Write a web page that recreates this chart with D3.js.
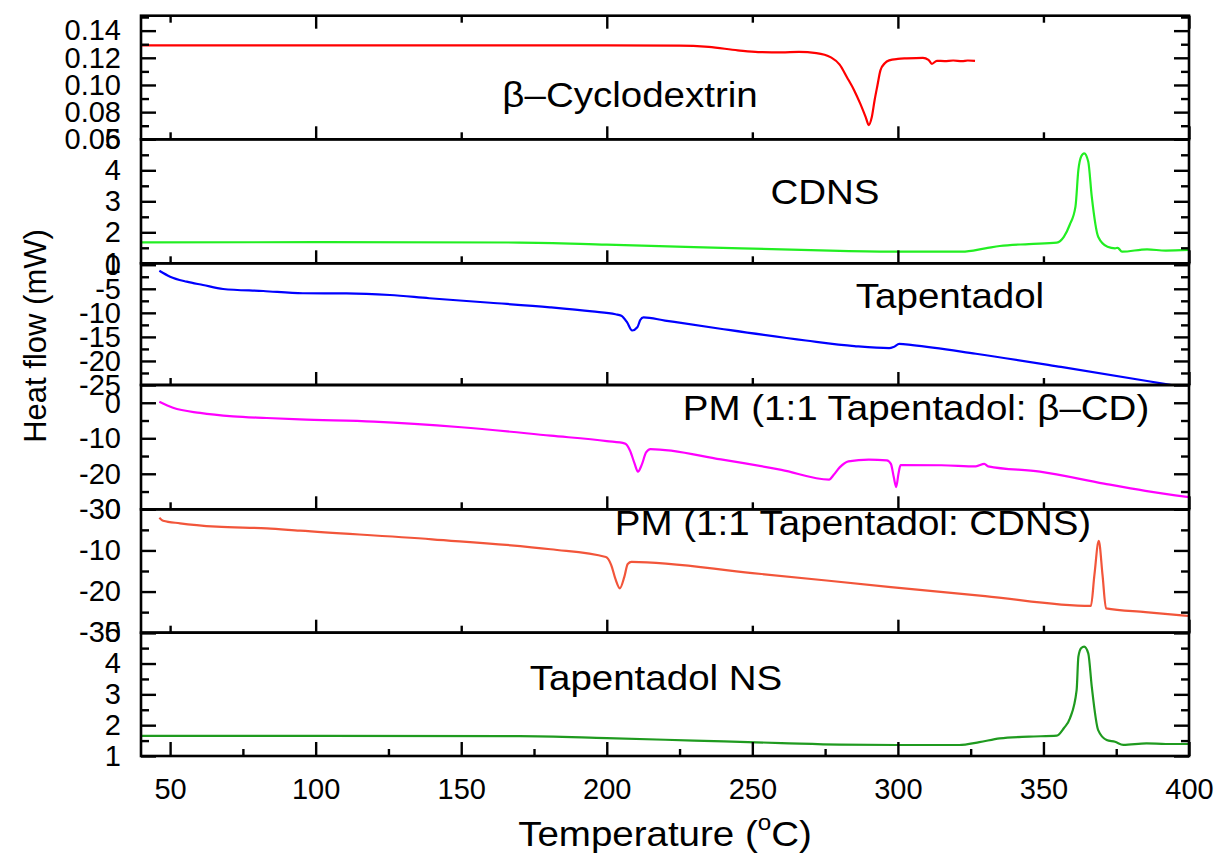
<!DOCTYPE html>
<html>
<head>
<meta charset="utf-8">
<script src="https://cdn.jsdelivr.net/npm/d3@7/dist/d3.min.js"></script>
<style>
  html, body { margin: 0; padding: 0; background: #ffffff; }
  svg { display: block; }
  text { font-family: "Liberation Sans", Arial, sans-serif; fill: #000; }
</style>
</head>
<body>
<svg id="chart" width="1217" height="857"></svg>
<script>
// ---------------- DATA (temperature °C, heat flow mW) ----------------
const betaCD = [[40,0.1291],[80,0.1292],[120,0.1291],[160,0.1292],[200,0.1291],[225,0.1290],[235,0.1280],[245,0.1255],[252,0.1242],[260,0.1240],[266,0.1243],[272,0.1235],[277,0.1203],[280,0.1150],[282.5,0.1057],[285,0.0960],[287,0.0866],[289,0.0760],[290,0.0705],[291,0.0760],[292,0.0888],[293,0.1000],[294,0.1108],[295.5,0.1160],[297,0.1181],[300,0.1192],[303,0.1196],[308.6,0.1200],[310.5,0.1185],[311.7,0.1156],[313.4,0.1178],[316,0.1176],[319,0.1180],[322,0.1175],[324,0.1180],[326.5,0.1177]];
const cdns = [[40,1.677],[100,1.68],[170,1.67],[200,1.60],[230,1.52],[260,1.45],[280,1.40],[300,1.375],[322,1.374],[330,1.48],[335,1.558],[345,1.62],[354.6,1.665],[357,1.85],[359,2.235],[361,2.826],[362,4.01],[363,4.45],[364,4.548],[365.4,4.277],[366.6,3.148],[368.8,1.858],[372,1.535],[374.6,1.484],[375.5,1.50],[377,1.374],[385.6,1.45],[392,1.41],[400,1.43]];
const tapentadol = [[46.3,-1.24],[50,-2.48],[55.7,-3.52],[61.3,-4.21],[68.2,-5.04],[82,-5.46],[95.6,-5.93],[110.6,-5.95],[125.5,-6.29],[139,-6.97],[160,-7.9],[180.5,-8.85],[195,-9.7],[203,-10.3],[205,-10.6],[207,-12],[208.7,-13.67],[210.5,-13.0],[211.5,-11.5],[212.6,-10.93],[220,-11.6],[239,-13.3],[268.4,-15.75],[285,-16.9],[297,-17.33],[298.5,-17.1],[300.5,-16.44],[305,-16.7],[326.8,-18.5],[356,-21.24],[391,-24.7],[394,-25]];
const pmBetaCD = [[46.3,0.26],[51,-1.43],[60.3,-2.86],[71.6,-3.83],[83.2,-4.29],[94.6,-4.69],[120,-5.3],[150,-6.9],[180.7,-9.26],[200,-10.8],[206.3,-11.49],[208,-13.5],[209.5,-17],[210.7,-19.4],[212,-17.5],[213.5,-14],[215,-13.06],[239.2,-15.94],[260,-18.9],[276.4,-21.63],[277.9,-20.34],[280,-18.2],[283,-16.5],[290,-16.0],[296.2,-16.2],[297.6,-17.2],[298.6,-21],[299.4,-23.74],[300.2,-20],[300.9,-17.57],[315,-17.6],[326.8,-17.9],[329.7,-17.2],[331,-17.9],[348.8,-19.4],[370.8,-22.77],[385,-24.8],[400,-26.6]];
const pmCDNS = [[46.3,-2.04],[47.6,-2.77],[53.4,-3.4],[66,-4.23],[83.2,-4.62],[94.6,-5.2],[140,-7.3],[180.7,-9.72],[199.7,-11.6],[201.5,-13.5],[203,-17],[204.5,-19.2],[206,-16.5],[207.2,-13.3],[208.5,-12.8],[250,-15.5],[297.6,-18.9],[330,-21.1],[366.3,-23.5],[367.5,-16],[369,-7.7],[370.3,-16],[371.5,-24.07],[385,-25],[400,-25.94]];
const tapentadolNS = [[40,1.65],[100,1.65],[170,1.645],[200,1.58],[230,1.5],[260,1.42],[280,1.37],[299.6,1.357],[321,1.357],[328,1.45],[335,1.574],[345,1.63],[354.6,1.66],[357,1.9],[359.1,2.22],[361.4,3.14],[362,4.22],[363,4.5],[364,4.55],[365.4,4.33],[366.6,3.25],[368.8,1.84],[371.7,1.52],[374.6,1.46],[377.4,1.36],[385.4,1.41],[392,1.39],[400,1.39]];

const seriesNames = ["\u03b2\u2013Cyclodextrin", "CDNS", "Tapentadol", "PM (1:1 Tapentadol: \u03b2\u2013CD)", "PM (1:1 Tapentadol: CDNS)", "Tapentadol NS"];

const xDomain = [40, 400];
const xTickLabels = [50, 100, 150, 200, 250, 300, 350, 400];
const xMinorTicks = [75, 125, 175, 225, 275, 325, 375];
const xInnerMajor = [100, 200, 300, 400];
const xInnerMinor = [50, 150, 250, 350];

const yDomains = [[0.06, 0.151], [1, 5], [-25, 0.3], [-30, 5], [-30, 0], [1, 5]];
const yMajorTicks = [[0.06, 0.08, 0.10, 0.12, 0.14], [1, 2, 3, 4, 5], [-25, -20, -15, -10, -5, 0], [-30, -20, -10, 0], [-30, -20, -10, 0], [1, 2, 3, 4, 5]];
const yMinorTicks = [[0.07, 0.09, 0.11, 0.13, 0.15], [1.5, 2.5, 3.5, 4.5], [-22.5, -17.5, -12.5, -7.5, -2.5], [-25, -15, -5], [-25, -15, -5], [1.5, 2.5, 3.5, 4.5]];
const yTickLabels = [["0.06", "0.08", "0.10", "0.12", "0.14"], ["1", "2", "3", "4", "5"], ["-25", "-20", "-15", "-10", "-5", "0"], ["-30", "-20", "-10", "0"], ["-30", "-20", "-10", "0"], ["1", "2", "3", "4", "5"]];

// ---------------- LAYOUT / STYLE ----------------
const seriesData = [betaCD, cdns, tapentadol, pmBetaCD, pmCDNS, tapentadolNS];
const colors = ["#ff0000", "#22ee22", "#0000ff", "#ff00ff", "#f2553a", "#1f9a1f"];
const left = 141, right = 1189;
const bounds = [15.7, 139.3, 263.3, 385, 509.3, 632.7, 756];
const labelPos = [[630, 95], [825, 192], [950, 296], [916, 408], [853, 523], [656, 678]];
const stretch = 1.1;

const svg = d3.select("#chart");
const x = d3.scaleLinear().domain(xDomain).range([left, right]);

function styleAxis(g, fontSize) {
  g.select(".domain").remove();
  g.selectAll(".tick line").attr("stroke", "#000").attr("stroke-width", 2.4);
  g.selectAll(".tick text").attr("font-size", fontSize).attr("font-family", "Liberation Sans, Arial, sans-serif").attr("fill", "#000");
}

seriesData.forEach((data, i) => {
  const top = bounds[i], bottom = bounds[i + 1];
  const y = d3.scaleLinear().domain(yDomains[i]).range([bottom, top]);
  const panel = svg.append("g");

  const clipId = "clip" + i;
  svg.append("clipPath").attr("id", clipId).append("rect")
    .attr("x", left).attr("y", top).attr("width", right - left).attr("height", bottom - top);

  const line = d3.line().x(d => x(d[0])).y(d => y(d[1])).curve(d3.curveMonotoneX);
  panel.append("path").datum(data)
    .attr("clip-path", `url(#${clipId})`)
    .attr("d", line).attr("fill", "none")
    .attr("stroke", colors[i]).attr("stroke-width", 2.2).attr("stroke-linejoin", "round");

  const labels = yTickLabels[i];
  const majors = yMajorTicks[i];
  panel.append("g").attr("transform", `translate(${left},0)`)
    .call(d3.axisLeft(y).tickValues(majors).tickSize(-15).tickPadding(20)
      .tickFormat((d) => labels[majors.indexOf(d)]))
    .call(g => styleAxis(g, 29));
  panel.append("g").attr("transform", `translate(${left},0)`)
    .call(d3.axisLeft(y).tickValues(yMinorTicks[i]).tickSize(-8).tickFormat(""))
    .call(g => styleAxis(g, 29));
  panel.append("g").attr("transform", `translate(${right},0)`)
    .call(d3.axisRight(y).tickValues(majors).tickSize(-15).tickFormat(""))
    .call(g => styleAxis(g, 29));
  panel.append("g").attr("transform", `translate(${right},0)`)
    .call(d3.axisRight(y).tickValues(yMinorTicks[i]).tickSize(-8).tickFormat(""))
    .call(g => styleAxis(g, 29));

  if (i < 5) {
    panel.append("g").attr("transform", `translate(0,${bottom})`)
      .call(d3.axisBottom(x).tickValues(xInnerMajor).tickSize(-13).tickFormat(""))
      .call(g => styleAxis(g, 29));
    panel.append("g").attr("transform", `translate(0,${bottom})`)
      .call(d3.axisBottom(x).tickValues(xInnerMinor).tickSize(-7).tickFormat(""))
      .call(g => styleAxis(g, 29));
  } else {
    panel.append("g").attr("transform", `translate(0,${bottom})`)
      .call(d3.axisBottom(x).tickValues(xTickLabels).tickSize(-14).tickPadding(22).tickFormat(d3.format("d")))
      .call(g => styleAxis(g, 29));
    panel.append("g").attr("transform", `translate(0,${bottom})`)
      .call(d3.axisBottom(x).tickValues(xMinorTicks).tickSize(-7).tickFormat(""))
      .call(g => styleAxis(g, 29));
  }
  if (i === 0) {
    panel.append("g").attr("transform", `translate(0,${top})`)
      .call(d3.axisTop(x).tickValues(xInnerMajor).tickSize(-13).tickFormat(""))
      .call(g => styleAxis(g, 29));
    panel.append("g").attr("transform", `translate(0,${top})`)
      .call(d3.axisTop(x).tickValues(xInnerMinor).tickSize(-7).tickFormat(""))
      .call(g => styleAxis(g, 29));
  }

  panel.append("rect").attr("x", left).attr("y", top)
    .attr("width", right - left).attr("height", bottom - top)
    .attr("fill", "none").attr("stroke", "#000").attr("stroke-width", 2.6);

  panel.append("text")
    .attr("transform", `translate(${labelPos[i][0]},${labelPos[i][1]}) scale(${stretch},1)`)
    .attr("text-anchor", "middle").attr("dominant-baseline", "central")
    .attr("font-size", 35).text(seriesNames[i]);
});

svg.append("text").attr("transform", "translate(35,336) rotate(-90)")
  .attr("text-anchor", "middle").attr("dominant-baseline", "central")
  .attr("font-size", 31).text("Heat flow (mW)");
const xt = svg.append("text").attr("transform", `translate(665,834) scale(${stretch},1)`)
  .attr("text-anchor", "middle").attr("dominant-baseline", "central")
  .attr("font-size", 35);
xt.append("tspan").text("Temperature (");
xt.append("tspan").attr("font-size", 22).attr("dy", -12).text("o");
xt.append("tspan").attr("dy", 12).text("C)");
</script>
</body>
</html>
